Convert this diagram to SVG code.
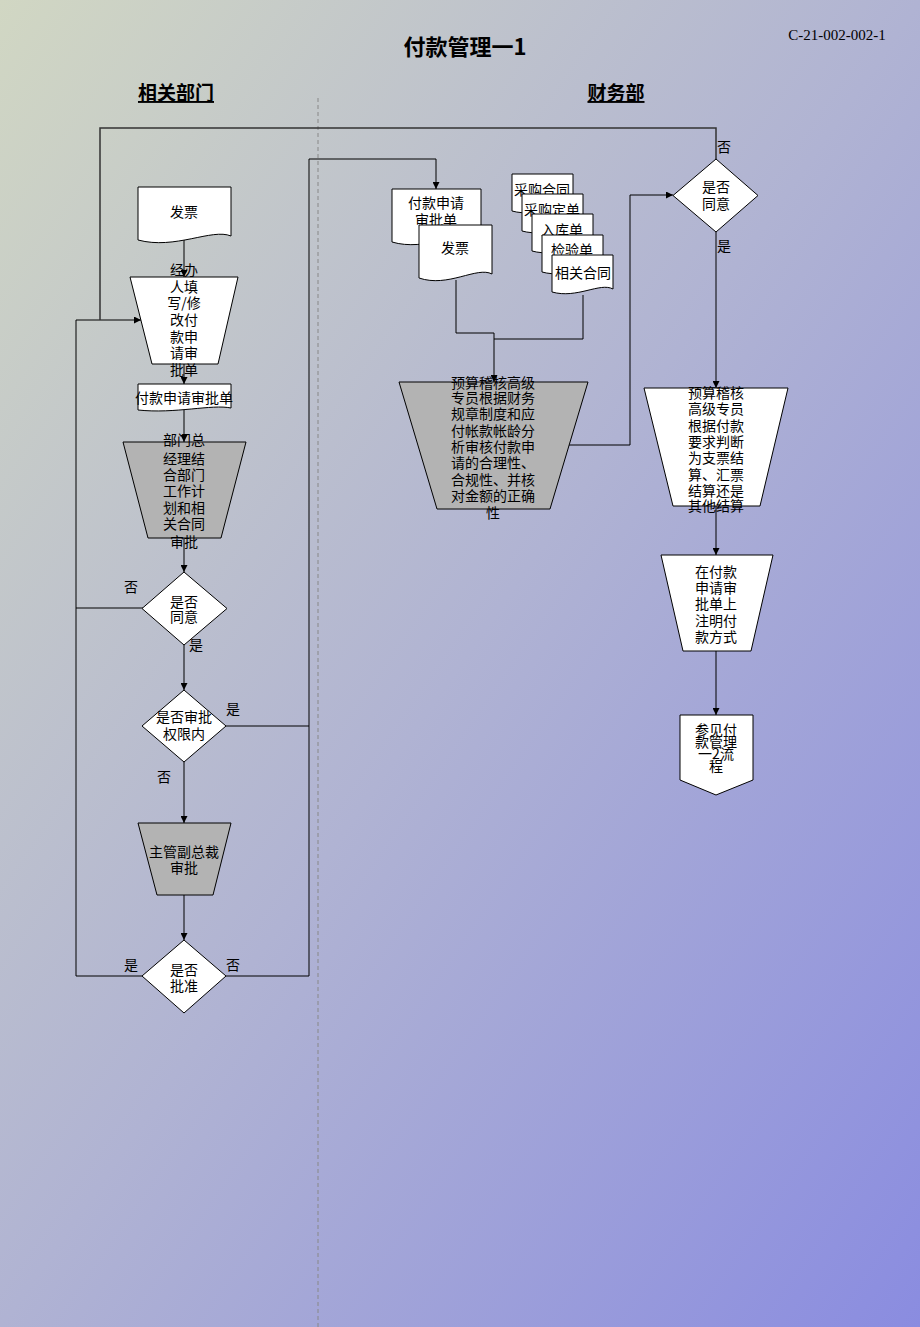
<svg xmlns="http://www.w3.org/2000/svg" width="920" height="1327" viewBox="0 0 920 1327">
<defs>
<linearGradient id="bg" x1="0" y1="0" x2="1" y2="1">
<stop offset="0" stop-color="#d1d7c3"/>
<stop offset="0.5" stop-color="#b0b3d3"/>
<stop offset="1" stop-color="#8a8ce0"/>
</linearGradient>
<marker id="arr" viewBox="0 0 10 10" refX="10" refY="5" markerWidth="8" markerHeight="7" markerUnits="userSpaceOnUse" orient="auto">
<path d="M0,0 L10,5 L0,10 z" fill="#000"/>
</marker>
<style>
.t{font-family:"Noto Sans CJK SC","Noto Sans",sans-serif;font-size:14px;fill:#000;text-anchor:middle}
.w{fill:#fff;stroke:#000;stroke-width:1}
.g{fill:#b3b3b3;stroke:#000;stroke-width:1}
.c{fill:none;stroke:#000;stroke-width:1}
.a{marker-end:url(#arr)}
.h{font-family:"Noto Sans CJK SC",sans-serif;font-size:19px;font-weight:bold;fill:#000;text-anchor:middle;text-decoration:underline}
</style>
</defs>
<rect x="0" y="0" width="920" height="1327" fill="url(#bg)"/>
<text x="465" y="55" style="font-family:'Noto Sans CJK SC',serif;font-size:22px;font-weight:bold;text-anchor:middle" fill="#000">付款管理一1</text>
<text x="837" y="40" style="font-family:'Liberation Serif',serif;font-size:15px;text-anchor:middle" fill="#000">C-21-002-002-1</text>
<text x="176" y="100" class="h">相关部门</text>
<text x="616" y="100" class="h">财务部</text>
<line x1="318" y1="98" x2="318" y2="1327" stroke="#888" stroke-width="1" stroke-dasharray="4,3"/>

<g id="connectors">
<path class="c a" d="M184,240 V277"/>
<path class="c a" d="M184,364 V384"/>
<path class="c a" d="M184,410 V442"/>
<path class="c a" d="M184,538 V572"/>
<path class="c a" d="M184,645 V690"/>
<path class="c a" d="M184,762 V823"/>
<path class="c a" d="M184,895 V940"/>
<path class="c a" d="M142,976 H76 V320 H141"/>
<path class="c" d="M143,608 H76"/>
<path class="c a" d="M226,726 H309 V159 H436 V189"/>
<path class="c" d="M226,976 H309 V726"/>
<path d="M716,159 V128 H100 V320" fill="none" stroke="#333" stroke-width="1.5"/>
<path class="c a" d="M456,280 V333 H494 V382"/>
<path class="c" d="M583,295 V339 H494"/>
<path class="c a" d="M569,445 H630 V195 H673"/>
<path class="c a" d="M716,232 V388"/>
<path class="c a" d="M716,506 V555"/>
<path class="c a" d="M716,651 V715"/>
</g>

<g id="label-no1"><text class="t" x="131" y="592">否</text></g>
<g id="label-yes1"><text class="t" x="196" y="650">是</text></g>
<g id="label-yes2"><text class="t" x="233" y="714">是</text></g>
<g id="label-no2"><text class="t" x="164" y="782">否</text></g>
<g id="label-yes3"><text class="t" x="131" y="970">是</text></g>
<g id="label-no3"><text class="t" x="233" y="970">否</text></g>
<g id="label-no4"><text class="t" x="724" y="152">否</text></g>
<g id="label-yes4"><text class="t" x="724" y="251">是</text></g>

<g id="n-invoice1">
<path class="w" d="M138,187 H231 V236 C212,228 175,250 138,240 Z"/>
<text class="t" x="184" y="217">发票</text>
</g>
<g id="n-fill">
<polygon class="w" points="130,277 238,277 218,364 152,364"/>
<text class="t" x="184" y="275">经办</text>
<text class="t" x="184" y="292">人填</text>
<text class="t" x="184" y="308">写/修</text>
<text class="t" x="184" y="325">改付</text>
<text class="t" x="184" y="342">款申</text>
<text class="t" x="184" y="358">请审</text>
<text class="t" x="184" y="375">批单</text>
</g>
<g id="n-form1">
<path class="w" d="M138,384 H231 V408 C212,404 175,414 138,410 Z"/>
<text class="t" x="184" y="403">付款申请审批单</text>
</g>
<g id="n-gm">
<polygon class="g" points="123,442 246,442 221,538 148,538"/>
<text class="t" x="184" y="445">部门总</text>
<text class="t" x="184" y="464">经理结</text>
<text class="t" x="184" y="480">合部门</text>
<text class="t" x="184" y="496">工作计</text>
<text class="t" x="184" y="513">划和相</text>
<text class="t" x="184" y="529">关合同</text>
<text class="t" x="184" y="547">审批</text>
</g>
<g id="n-agree1">
<polygon class="w" points="184,572 227,608.5 184,645 142,608.5"/>
<text class="t" x="184" y="607">是否</text>
<text class="t" x="184" y="622">同意</text>
</g>
<g id="n-limit">
<polygon class="w" points="184,690 226,726 184,762 142,726"/>
<text class="t" x="184" y="722">是否审批</text>
<text class="t" x="184" y="739">权限内</text>
</g>
<g id="n-vp">
<polygon class="g" points="138,823 231,823 213,895 157,895"/>
<text class="t" x="184" y="857">主管副总裁</text>
<text class="t" x="184" y="873">审批</text>
</g>
<g id="n-approve">
<polygon class="w" points="184,940 226,976 184,1013 142,976"/>
<text class="t" x="184" y="975">是否</text>
<text class="t" x="184" y="991">批准</text>
</g>

<g id="n-form2">
<path class="w" d="M392,189 H481 V238 C462,230 425,252 392,242 Z"/>
<text class="t" x="436" y="208">付款申请</text>
<text class="t" x="436" y="225">审批单</text>
</g>
<g id="n-invoice2">
<path class="w" d="M419,225 H492 V274 C477,266 448,288 419,278 Z"/>
<text class="t" x="455" y="253">发票</text>
</g>
<g id="n-contract">
<path class="w" d="M512,174 H573 V208 C560,201 537,218 512,211 Z"/>
<text class="t" x="542" y="195">采购合同</text>
</g>
<g id="n-order">
<path class="w" d="M522,194 H583 V228 C570,221 547,238 522,231 Z"/>
<text class="t" x="552" y="215">采购定单</text>
</g>
<g id="n-stockin">
<path class="w" d="M532,214 H593 V248 C580,241 557,258 532,251 Z"/>
<text class="t" x="562" y="235">入库单</text>
</g>
<g id="n-inspect">
<path class="w" d="M542,235 H603 V269 C590,262 567,279 542,272 Z"/>
<text class="t" x="572" y="255">检验单</text>
</g>
<g id="n-related">
<path class="w" d="M552,255 H613 V289 C600,282 577,299 552,292 Z"/>
<text class="t" x="583" y="278">相关合同</text>
</g>
<g id="n-audit">
<polygon class="g" points="399,382 588,382 550,509 437,509"/>
<text class="t" x="493" y="388">预算稽核高级</text>
<text class="t" x="493" y="403">专员根据财务</text>
<text class="t" x="493" y="419">规章制度和应</text>
<text class="t" x="493" y="436">付帐款帐龄分</text>
<text class="t" x="493" y="452">析审核付款申</text>
<text class="t" x="493" y="468">请的合理性、</text>
<text class="t" x="493" y="485">合规性、并核</text>
<text class="t" x="493" y="501">对金额的正确</text>
<text class="t" x="493" y="518">性</text>
</g>
<g id="n-agree2">
<polygon class="w" points="716,159 758,195.5 716,232 673,195.5"/>
<text class="t" x="716" y="192">是否</text>
<text class="t" x="716" y="209">同意</text>
</g>
<g id="n-method">
<polygon class="w" points="644,388 788,388 760,506 673,506"/>
<text class="t" x="716" y="398">预算稽核</text>
<text class="t" x="716" y="414">高级专员</text>
<text class="t" x="716" y="431">根据付款</text>
<text class="t" x="716" y="447">要求判断</text>
<text class="t" x="716" y="463">为支票结</text>
<text class="t" x="716" y="480">算、汇票</text>
<text class="t" x="716" y="496">结算还是</text>
<text class="t" x="716" y="511">其他结算</text>
</g>
<g id="n-note">
<polygon class="w" points="661,555 773,555 751,651 683,651"/>
<text class="t" x="716" y="577">在付款</text>
<text class="t" x="716" y="593">申请审</text>
<text class="t" x="716" y="609">批单上</text>
<text class="t" x="716" y="626">注明付</text>
<text class="t" x="716" y="642">款方式</text>
</g>
<g id="n-ref">
<polygon class="w" points="680,715 753,715 753,780 716,795 680,780"/>
<text class="t" x="716" y="735">参见付</text>
<text class="t" x="716" y="747">款管理</text>
<text class="t" x="716" y="759">一2流</text>
<text class="t" x="716" y="771">程</text>
</g>
</svg>
